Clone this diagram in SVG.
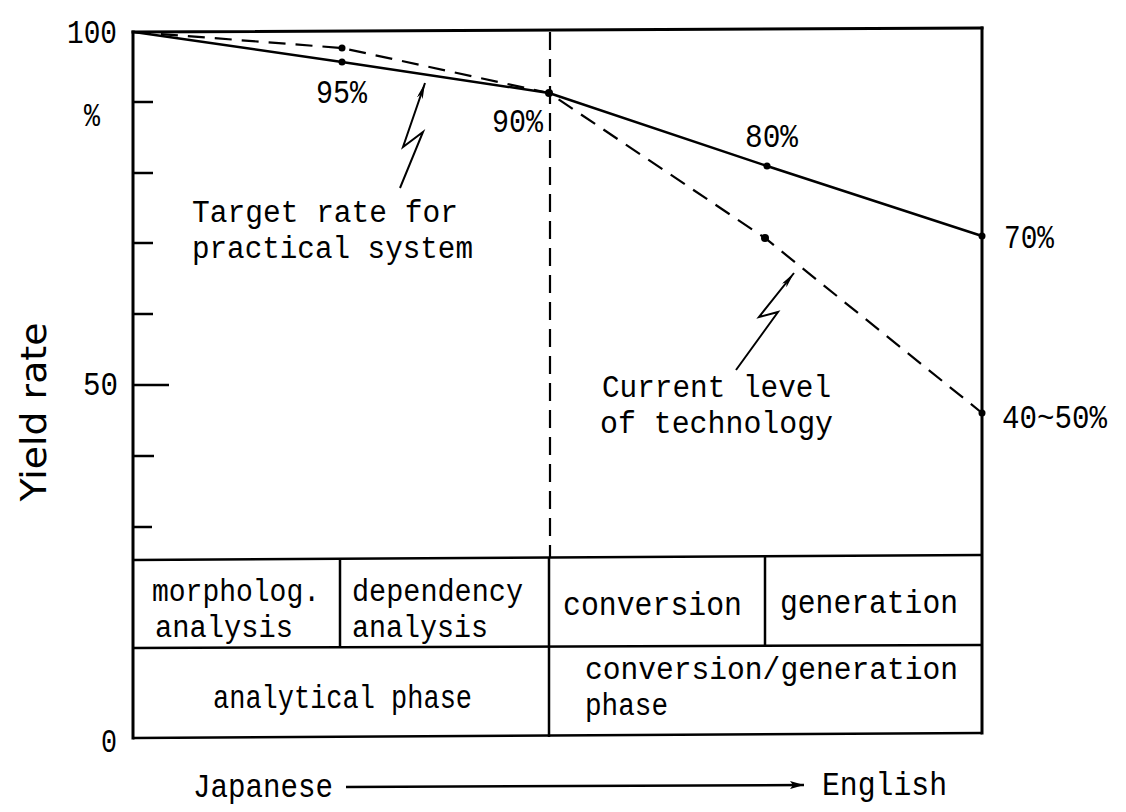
<svg xmlns="http://www.w3.org/2000/svg" width="1126" height="812" viewBox="0 0 1126 812">
<style>
.t{font-family:"Liberation Mono","DejaVu Sans Mono",monospace;font-size:34px;fill:#000}
.m{font-family:"Liberation Mono","DejaVu Sans Mono",monospace;font-size:31px;fill:#000}
.ax{stroke:#000;stroke-width:3;fill:none;stroke-linecap:square}
.tk{stroke:#000;stroke-width:2.5;fill:none}
.cell{stroke:#000;stroke-width:2.5;fill:none}
.sol{stroke:#000;stroke-width:2.5;fill:none;stroke-linejoin:round}
.dsh{stroke:#000;stroke-width:2.2;fill:none;stroke-dasharray:17 10}
.vd{stroke:#000;stroke-width:2.2;fill:none;stroke-dasharray:18 9}
.bolt{stroke:#000;stroke-width:2;fill:none;stroke-linejoin:miter}
.pt{fill:#000}
</style>
<defs>
<marker id="ah" viewBox="0 0 16 6" refX="16" refY="3" markerWidth="16" markerHeight="6" markerUnits="userSpaceOnUse" orient="auto">
<path d="M0,0 L16,3 L0,6 L4,3 z" fill="#000"/>
</marker>
<marker id="ah2" viewBox="0 0 14 8" refX="14" refY="4" markerWidth="14" markerHeight="8" markerUnits="userSpaceOnUse" orient="auto">
<path d="M0,0 L14,4 L0,8 L3,4 z" fill="#000"/>
</marker>
</defs>
<rect width="1126" height="812" fill="#fff"/>

<g id="axes">
<line class="ax" x1="133" y1="32" x2="982" y2="28"/>
<line class="ax" x1="133" y1="32" x2="133" y2="738"/>
<line class="ax" x1="982" y1="28" x2="982" y2="733"/>
<line class="tk" x1="133" y1="102" x2="153" y2="102"/>
<line class="tk" x1="133" y1="173" x2="153" y2="173"/>
<line class="tk" x1="133" y1="243" x2="153" y2="243"/>
<line class="tk" x1="133" y1="314" x2="153" y2="314"/>
<line class="tk" x1="133" y1="385" x2="169" y2="385"/>
<line class="tk" x1="133" y1="456" x2="154" y2="456"/>
<line class="tk" x1="133" y1="527" x2="152" y2="527"/>
<text class="t" x="67" y="43" textLength="50" lengthAdjust="spacingAndGlyphs">100</text>
<text class="t" x="84" y="126" textLength="16" lengthAdjust="spacingAndGlyphs">%</text>
<text class="t" x="83" y="395" textLength="35" lengthAdjust="spacingAndGlyphs">50</text>
<text class="t" x="101" y="752" textLength="16" lengthAdjust="spacingAndGlyphs">0</text>
<text transform="translate(46,412) rotate(-90)" x="0" y="0" text-anchor="middle" textLength="179" lengthAdjust="spacingAndGlyphs" style="font-family:'DejaVu Sans','Liberation Sans',sans-serif;font-size:35px;fill:#000">Yield rate</text>
<line class="vd" x1="550" y1="32" x2="550" y2="557"/>
</g>

<g id="connectors">
<polyline class="sol" points="134,32 342,62 549,93 767,166 982,236"/>
<polyline class="dsh" points="134,32 342,48 549,93 765,238 982,413"/>
<circle class="pt" cx="342" cy="62" r="3.5"/>
<circle class="pt" cx="342" cy="48" r="3.5"/>
<circle class="pt" cx="549" cy="93" r="4"/>
<circle class="pt" cx="767" cy="166" r="3.5"/>
<circle class="pt" cx="765" cy="238" r="4"/>
<circle class="pt" cx="982" cy="236" r="3.5"/>
<circle class="pt" cx="982" cy="413" r="3.5"/>
<polyline class="bolt" points="400,188 423,132 403,147 425,83" marker-end="url(#ah)"/>
<polyline class="bolt" points="736,370 778,312 759,317 794,273" marker-end="url(#ah)"/>
<line x1="346" y1="787" x2="804" y2="785" stroke="#000" stroke-width="2.5" marker-end="url(#ah2)"/>
</g>

<g id="labels">
<text class="t" x="316" y="103" textLength="51" lengthAdjust="spacingAndGlyphs">95%</text>
<text class="t" x="492" y="132" textLength="51" lengthAdjust="spacingAndGlyphs">90%</text>
<text class="t" x="745" y="147" textLength="53" lengthAdjust="spacingAndGlyphs">80%</text>
<text class="t" x="1004" y="248" textLength="50" lengthAdjust="spacingAndGlyphs">70%</text>
<text class="t" x="1002" y="428" textLength="105" lengthAdjust="spacingAndGlyphs">40~50%</text>
</g>

<g id="target-note">
<text class="m" x="192" y="222" textLength="266" lengthAdjust="spacingAndGlyphs">Target rate for</text>
<text class="m" x="192" y="258" textLength="281" lengthAdjust="spacingAndGlyphs">practical system</text>
</g>

<g id="current-note">
<text class="m" x="602" y="397" textLength="229" lengthAdjust="spacingAndGlyphs">Current level</text>
<text class="m" x="600" y="433" textLength="233" lengthAdjust="spacingAndGlyphs">of technology</text>
</g>

<g id="table">
<line class="cell" x1="133" y1="560" x2="982" y2="555"/>
<line class="cell" x1="133" y1="648" x2="982" y2="645"/>
<line class="cell" x1="133" y1="738" x2="982" y2="733"/>
<line class="cell" x1="340" y1="559" x2="340" y2="648"/>
<line class="cell" x1="549" y1="558" x2="549" y2="737"/>
<line class="cell" x1="765" y1="556" x2="765" y2="646"/>
</g>

<g id="cell-morph">
<text class="m" x="152" y="601" textLength="168" lengthAdjust="spacingAndGlyphs">morpholog.</text>
<text class="m" x="155" y="637" textLength="138" lengthAdjust="spacingAndGlyphs">analysis</text>
</g>
<g id="cell-dep">
<text class="m" x="352" y="601" textLength="171" lengthAdjust="spacingAndGlyphs">dependency</text>
<text class="m" x="352" y="637" textLength="136" lengthAdjust="spacingAndGlyphs">analysis</text>
</g>
<g id="cell-conv">
<text class="t" x="563" y="615" textLength="179" lengthAdjust="spacingAndGlyphs">conversion</text>
</g>
<g id="cell-gen">
<text class="t" x="780" y="613" textLength="178" lengthAdjust="spacingAndGlyphs">generation</text>
</g>
<g id="cell-analytical">
<text class="t" x="213" y="708" textLength="259" lengthAdjust="spacingAndGlyphs">analytical phase</text>
</g>
<g id="cell-convgen">
<text class="m" x="585" y="679" textLength="373" lengthAdjust="spacingAndGlyphs">conversion/generation</text>
<text class="m" x="585" y="715" textLength="83" lengthAdjust="spacingAndGlyphs">phase</text>
</g>

<g id="direction">
<text class="t" x="193" y="797" textLength="140" lengthAdjust="spacingAndGlyphs">Japanese</text>
<text class="t" x="822" y="795" textLength="125" lengthAdjust="spacingAndGlyphs">English</text>
</g>
</svg>
